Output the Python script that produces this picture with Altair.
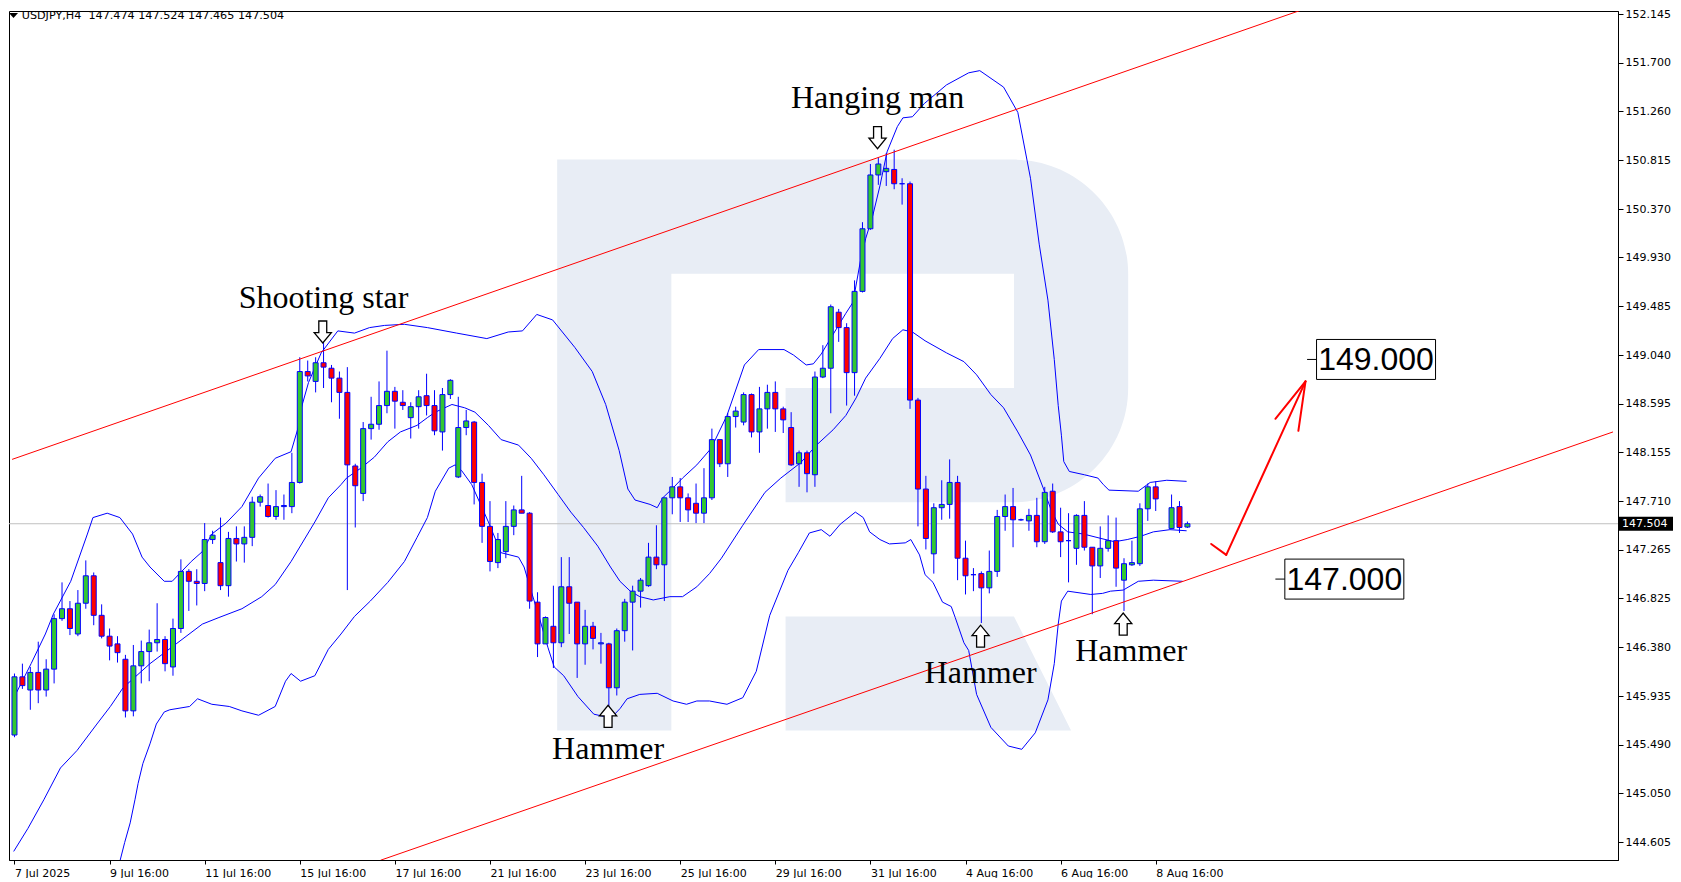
import altair as alt
import pandas as pd

# ---------------- data ----------------
HEADER = "USDJPY,H4\u00a0 147.474 147.524 147.465 147.504"

BAR_IDX = list(range(145)) + [146, 147, 148]
OPEN = [145.58, 146.11, 145.99, 146.15, 145.99, 146.18, 146.64, 146.73, 146.50, 146.78,
        147.03, 146.67, 146.48, 146.41, 146.27, 145.80, 146.21, 146.34, 146.42, 146.45,
        146.20, 146.55, 147.07, 146.98, 146.96, 147.36, 147.15, 146.94, 147.37, 147.32,
        147.38, 147.70, 147.67, 147.57, 147.66, 147.66, 147.88, 148.89, 148.80, 148.97,
        148.92, 148.83, 148.70, 148.03, 147.78, 148.37, 148.41, 148.58, 148.71, 148.61,
        148.47, 148.57, 148.67, 148.58, 148.34, 148.68, 147.93, 148.38, 148.43, 147.88,
        147.48, 147.15, 147.25, 147.48, 147.63, 147.60, 146.79, 146.41, 146.57, 146.42,
        146.93, 146.79, 146.41, 146.57, 146.41, 146.41, 146.01, 146.53, 146.79, 146.89,
        146.94, 147.20, 147.13, 147.74, 147.84, 147.74, 147.69, 147.60, 147.74, 148.27,
        148.05, 148.48, 148.43, 148.68, 148.34, 148.55, 148.70, 148.55, 148.38, 148.05,
        148.15, 147.95, 148.84, 148.92, 149.43, 149.29, 148.88, 149.62, 150.19, 150.68,
        150.71, 150.73, 150.60, 150.60, 148.63, 147.82, 147.23, 147.65, 147.68, 147.88,
        147.19, 147.04, 147.05, 146.92, 147.07, 147.57, 147.66, 147.54, 147.53, 147.58,
        147.34, 147.80, 147.43, 147.35, 147.28, 147.58, 147.29, 147.12, 147.28, 147.35,
        146.99, 147.13, 147.14, 147.64, 147.84, 147.46, 147.66, 147.474]
HIGH = [146.14, 146.23, 146.20, 146.43, 146.27, 146.68, 146.97, 146.80, 146.90, 147.17,
        147.06, 146.77, 146.55, 146.48, 146.31, 146.40, 146.44, 146.54, 146.78, 146.48,
        146.64, 147.18, 147.09, 147.09, 147.51, 147.44, 147.56, 147.43, 147.48, 147.48,
        147.75, 147.77, 147.87, 147.81, 147.77, 148.15, 149.02, 148.99, 149.02, 149.16,
        148.95, 148.89, 148.93, 148.05, 148.43, 148.66, 148.80, 149.08, 148.75, 148.72,
        148.61, 148.72, 148.87, 148.72, 148.74, 148.82, 148.66, 148.54, 148.44, 147.96,
        147.71, 147.42, 147.71, 147.67, 147.94, 147.61, 146.88, 146.66, 146.94, 147.20,
        147.20, 146.79, 146.72, 146.61, 146.51, 146.42, 146.55, 146.82, 146.94, 147.01,
        147.33, 147.49, 147.74, 147.93, 147.92, 147.78, 147.87, 148.01, 148.37, 148.27,
        148.51, 148.57, 148.70, 148.69, 148.75, 148.77, 148.80, 148.57, 148.52, 148.17,
        148.17, 148.89, 149.13, 149.50, 149.46, 149.33, 149.72, 150.25, 150.78, 150.84,
        150.88, 150.91, 150.65, 150.62, 148.65, 147.94, 147.69, 147.90, 148.09, 147.94,
        147.35, 147.10, 147.07, 147.26, 147.63, 147.77, 147.83, 147.55, 147.64, 147.74,
        147.84, 147.87, 147.65, 147.60, 147.59, 147.71, 147.29, 147.48, 147.58, 147.56,
        147.19, 147.35, 147.69, 147.87, 147.89, 147.77, 147.71, 147.524]
LOW = [145.56, 146.00, 145.81, 145.87, 145.93, 146.05, 146.62, 146.49, 146.48, 146.73,
       146.58, 146.46, 146.26, 146.24, 145.74, 145.75, 146.05, 146.07, 146.34, 146.16,
       146.12, 146.51, 146.71, 146.76, 146.89, 147.32, 146.90, 146.84, 147.16, 147.15,
       147.30, 147.66, 147.56, 147.54, 147.54, 147.60, 147.87, 148.80, 148.70, 148.74,
       148.61, 148.46, 146.90, 147.47, 147.71, 148.27, 148.36, 148.51, 148.37, 148.54,
       148.28, 148.37, 148.49, 148.31, 148.17, 148.64, 147.92, 148.31, 147.68, 147.33,
       147.07, 147.10, 147.19, 147.40, 147.60, 146.73, 146.29, 146.41, 146.19, 146.38,
       146.50, 146.10, 146.22, 146.36, 146.23, 145.82, 145.94, 146.43, 146.35, 146.74,
       146.93, 147.09, 146.80, 147.59, 147.52, 147.52, 147.51, 147.51, 147.72, 148.02,
       147.93, 148.38, 148.40, 148.29, 148.15, 148.37, 148.34, 148.33, 148.03, 147.84,
       147.79, 147.84, 148.83, 148.51, 149.16, 148.58, 148.67, 149.61, 150.18, 150.59,
       150.58, 150.55, 150.41, 148.55, 147.48, 147.27, 147.05, 147.54, 147.55, 146.99,
       146.86, 146.89, 146.60, 146.87, 147.02, 147.44, 147.29, 147.53, 147.44, 147.29,
       147.32, 147.42, 147.20, 146.97, 147.13, 147.26, 146.68, 147.01, 147.25, 146.93,
       146.71, 147.12, 147.12, 147.53, 147.62, 147.46, 147.42, 147.465]
CLOSE = [146.11, 146.03, 146.15, 145.99, 146.18, 146.64, 146.73, 146.55, 146.78, 147.03,
         146.67, 146.48, 146.39, 146.33, 145.80, 146.21, 146.34, 146.42, 146.45, 146.23,
         146.55, 147.07, 146.98, 146.96, 147.36, 147.40, 146.94, 147.37, 147.32, 147.38,
         147.70, 147.75, 147.57, 147.66, 147.67, 147.88, 148.89, 148.85, 148.97, 148.93,
         148.83, 148.70, 148.04, 147.85, 148.37, 148.41, 148.58, 148.71, 148.62, 148.58,
         148.57, 148.66, 148.58, 148.35, 148.68, 148.81, 148.38, 148.44, 147.88, 147.48,
         147.16, 147.36, 147.48, 147.63, 147.60, 146.80, 146.41, 146.65, 146.42, 146.93,
         146.78, 146.41, 146.57, 146.46, 146.42, 146.01, 146.53, 146.79, 146.89, 146.99,
         147.20, 147.13, 147.74, 147.84, 147.74, 147.63, 147.60, 147.74, 148.27, 148.05,
         148.48, 148.53, 148.68, 148.34, 148.55, 148.70, 148.55, 148.45, 148.04, 148.15,
         147.96, 148.84, 148.92, 149.48, 149.29, 148.88, 149.62, 150.19, 150.68, 150.78,
         150.74, 150.60, 150.60, 148.63, 147.82, 147.37, 147.65, 147.68, 147.88, 147.19,
         147.03, 147.04, 146.92, 147.07, 147.57, 147.66, 147.54, 147.54, 147.58, 147.34,
         147.79, 147.43, 147.34, 147.35, 147.58, 147.29, 147.12, 147.28, 147.35, 147.10,
         147.14, 147.15, 147.64, 147.84, 147.73, 147.65, 147.47, 147.504]

# Bollinger bands (bar position, price)
UPPER_IDX = [0.0, 2.1, 3.9, 4.9, 7.1, 9.2, 9.9, 11.7, 13.3, 14.9, 16.1, 17.1, 18.9, 19.9, 21.1,
             22.3, 23.7, 24.9, 26.7, 28.7, 30.8, 32.9, 34.9, 35.8, 36.2, 37.1, 38.7, 40.8, 42.9,
             44.8, 46.7, 49.2, 52.1, 55.8, 59.6, 62.3, 64.1, 65.9, 67.9, 70.7, 72.9, 74.6, 76.3,
             77.4, 78.3, 80.2, 81.1, 81.8, 83.1, 84.3, 86.1, 87.9, 89.9, 92.1, 93.9, 97.1, 98.3,
             99.9, 100.8, 101.8, 104.9, 105.8, 106.8, 107.4, 108.3, 109.2, 110.1, 111.4, 112.1,
             113.3, 114.8, 117.6, 120.4, 121.8, 124.8, 126.6, 128.2, 129.3, 130.4, 131.2, 131.7,
             132.1, 132.4, 133.1, 135.0, 136.7, 137.4, 138.1, 141.8, 143.3, 145.4, 147.9]
UPPER_VAL = [145.93, 146.23, 146.50, 146.68, 146.98, 147.41, 147.56, 147.60, 147.56, 147.41,
             147.20, 147.11, 146.98, 146.98, 147.07, 147.16, 147.25, 147.41, 147.51, 147.66,
             147.92, 148.10, 148.16, 148.38, 148.56, 148.79, 149.06, 149.26, 149.24, 149.29,
             149.31, 149.32, 149.29, 149.24, 149.19, 149.25, 149.26, 149.41, 149.36, 149.11,
             148.89, 148.59, 148.17, 147.82, 147.72, 147.68, 147.65, 147.74, 147.83, 147.92,
             148.04, 148.19, 148.49, 148.95, 149.09, 149.09, 149.04, 148.95, 148.96, 149.05,
             149.42, 149.52, 149.92, 150.10, 150.31, 150.58, 150.89, 151.12, 151.20, 151.21,
             151.33, 151.50, 151.61, 151.63, 151.48, 151.25, 150.65, 150.05, 149.54, 149.00,
             148.58, 148.31, 148.07, 147.98, 147.95, 147.92, 147.86, 147.81, 147.80, 147.88,
             147.90, 147.89]
MIDDLE_IDX = [-0.1, 1.7, 3.7, 5.8, 7.9, 10.4, 12.1, 13.7, 17.1, 20.4, 23.7, 25.8, 28.7, 31.2,
              32.9, 34.9, 37.9, 39.6, 41.2, 41.9, 43.7, 45.4, 47.1, 48.7, 50.8, 52.1, 53.1, 55.2,
              56.8, 58.1, 59.8, 61.4, 63.6, 65.2, 66.8, 68.6, 70.2, 71.8, 73.6, 75.2, 76.4, 77.7,
              78.9, 80.6, 82.7, 84.3, 86.1, 87.7, 89.2, 91.9, 94.7, 96.7, 99.2, 101.2, 103.3,
              104.9, 106.2, 107.4, 109.2, 110.8, 112.1, 113.3, 114.9, 117.6, 119.8, 121.4, 123.2,
              124.8, 126.6, 128.2, 129.8, 130.8, 131.7, 132.9, 134.9, 137.1, 138.8, 140.4, 142.1,
              143.7, 145.8, 147.9]
MIDDLE_VAL = [144.52, 144.73, 144.99, 145.28, 145.44, 145.68, 145.84, 146.01, 146.23, 146.41,
              146.59, 146.65, 146.73, 146.84, 146.95, 147.16, 147.52, 147.74, 147.86, 147.92,
              148.01, 148.11, 148.25, 148.34, 148.40, 148.47, 148.52, 148.59, 148.56, 148.52,
              148.40, 148.27, 148.22, 148.10, 147.95, 147.77, 147.61, 147.47, 147.30, 147.11,
              146.98, 146.89, 146.84, 146.81, 146.84, 146.84, 146.93, 147.05, 147.19, 147.49,
              147.79, 147.92, 148.06, 148.22, 148.36, 148.49, 148.65, 148.83, 149.01, 149.19,
              149.27, 149.25, 149.17, 149.06, 148.98, 148.86, 148.68, 148.56, 148.34, 148.13,
              147.83, 147.63, 147.50, 147.43, 147.41, 147.37, 147.34, 147.36, 147.39, 147.43,
              147.45, 147.44]
LOWER_IDX = [12.5, 13.3, 13.9, 14.6, 15.2, 15.6, 16.2, 17.1, 17.9, 18.9, 19.6, 22.1, 23.1, 24.9,
             27.1, 28.7, 30.8, 32.9, 34.2, 34.9, 36.1, 37.9, 39.6, 41.2, 42.9, 44.9, 47.1, 49.2,
             50.8, 52.1, 53.1, 54.8, 55.6, 56.4, 57.7, 59.8, 61.4, 63.6, 64.3, 65.2, 66.1, 67.3,
             68.1, 69.3, 71.1, 73.1, 74.3, 75.6, 76.4, 77.3, 78.9, 81.1, 83.1, 84.8, 86.1, 87.7,
             89.9, 91.9, 93.6, 95.3, 97.6, 98.9, 100.3, 101.8, 102.9, 104.2, 106.1, 107.1, 107.9,
             109.2, 110.4, 112.4, 113.1, 114.2, 114.9, 115.9, 117.1, 118.2, 118.7, 119.8, 120.4,
             121.4, 123.2, 125.4, 127.1, 128.8, 130.4, 131.2, 131.7, 132.1, 132.9, 135.8, 137.3,
             138.3, 139.9, 141.8, 143.7, 147.4]
LOWER_VAL = [144.20, 144.43, 144.60, 144.78, 144.99, 145.14, 145.32, 145.50, 145.68, 145.79,
             145.81, 145.84, 145.91, 145.86, 145.84, 145.80, 145.76, 145.84, 146.07, 146.14,
             146.07, 146.12, 146.36, 146.50, 146.66, 146.80, 146.97, 147.16, 147.38, 147.56,
             147.80, 148.01, 148.04, 147.99, 147.86, 147.52, 147.24, 147.20, 147.11, 146.89,
             146.68, 146.38, 146.20, 146.12, 145.93, 145.77, 145.75, 145.76, 145.82, 145.91,
             145.95, 145.96, 145.89, 145.86, 145.89, 145.89, 145.86, 145.92, 146.16, 146.67,
             147.08, 147.24, 147.42, 147.45, 147.39, 147.50, 147.61, 147.56, 147.43, 147.36,
             147.32, 147.33, 147.36, 147.22, 147.04, 146.97, 146.79, 146.75, 146.65, 146.42,
             146.35, 145.95, 145.65, 145.48, 145.45, 145.60, 145.90, 146.23, 146.59, 146.80,
             146.89, 146.86, 146.87, 146.89, 146.90, 146.98, 146.99, 146.98]

# channel lines: end points where they meet the chart border
CHANNEL_X1 = [-0.3, 46.2]
CHANNEL_Y1 = [148.09, 144.44]
CHANNEL_X2 = [163.1, 201.7]
CHANNEL_Y2 = [152.20, 148.34]

# hand-drawn forecast arrow (segments)
ARROW_X1 = [151.0, 152.9, 162.9, 162.9]
ARROW_Y1 = [147.32, 147.22, 148.80, 148.80]
ARROW_X2 = [152.9, 162.9, 159.1, 162.0]
ARROW_Y2 = [147.22, 148.80, 148.46, 148.35]

# pattern labels
PATTERN_TEXT = ["Shooting star", "Hanging man", "Hammer", "Hammer", "Hammer"]
PATTERN_IDX = [39.0, 108.9, 74.9, 121.9, 140.9]
PATTERN_PRICE = [149.47, 151.29, 145.36, 146.05, 146.25]
DOWN_ARROW_IDX = [38.9, 108.9]
DOWN_ARROW_PRICE = [149.25, 151.02]
UP_ARROW_IDX = [74.9, 121.9, 139.9]
UP_ARROW_PRICE = [145.75, 146.48, 146.59]

# target levels
TARGET_TEXT = ["149.000", "147.000"]
TARGET_PRICE = [149.0, 147.0]
TARGET_BOX_IDX = [171.8, 167.8]
TARGET_TICK_X1 = [163.1, 159.1]
TARGET_TICK_X2 = [164.35, 160.4]

LAST_PRICE = 147.504

# watermark position (bar position, price)
WM_IDX = [104.5]
WM_PRICE = [148.22]

X_TICKS = [0, 12, 24, 36, 48, 60, 72, 84, 96, 108, 120, 132, 144]
X_LABELS = ["7 Jul 2025", "9 Jul 16:00", "11 Jul 16:00", "15 Jul 16:00", "17 Jul 16:00",
            "21 Jul 16:00", "23 Jul 16:00", "25 Jul 16:00", "29 Jul 16:00", "31 Jul 16:00",
            "4 Aug 16:00", "6 Aug 16:00", "8 Aug 16:00"]
Y_TICKS = [152.145, 151.700, 151.260, 150.815, 150.370, 149.930, 149.485, 149.040, 148.595,
           148.155, 147.710, 147.265, 146.825, 146.380, 145.935, 145.490, 145.050, 144.605]

# ---------------- layout / style ----------------
W, H = 1609, 849
X_DOMAIN = [-0.06, 201.7]
Y_DOMAIN = [144.442, 152.173]
BLUE = "#0000ff"
GREEN = "#32c832"
RED = "#ff0000"
FONT = "DejaVu Sans"

label_expr = ""
for v, l in zip(X_TICKS, X_LABELS):
    label_expr += f"datum.value == {v} ? '{l}' : "
label_expr += "''"

XS = alt.Scale(domain=X_DOMAIN, nice=False, zero=False)
YS = alt.Scale(domain=Y_DOMAIN, nice=False, zero=False)
XAXIS = alt.Axis(values=X_TICKS, labelExpr=label_expr, orient="bottom", tickSize=4,
                 labelAlign="left", labelBaseline="top", labelPadding=3, labelFont=FONT,
                 labelFontSize=11, labelColor="black", tickColor="black",
                 domainColor="black", grid=False, labelFlush=False, labelOverlap=False,
                 title=None)
YAXIS = alt.Axis(values=Y_TICKS, format=".3f", orient="right", tickSize=5, labelPadding=2,
                 labelFont=FONT, labelFontSize=11, labelColor="black", tickColor="black",
                 domainColor="black", grid=False, labelFlush=False, labelOverlap=False,
                 title=None)


def X(f):
    return alt.X(f"{f}:Q", scale=XS, axis=XAXIS)


def Y(f):
    return alt.Y(f"{f}:Q", scale=YS, axis=YAXIS)


candles = pd.DataFrame({"idx": BAR_IDX, "open": OPEN, "high": HIGH, "low": LOW, "close": CLOSE})
candles["fill"] = [GREEN if c >= o else RED for o, c in zip(OPEN, CLOSE)]

bands = pd.concat([
    pd.DataFrame({"idx": UPPER_IDX, "price": UPPER_VAL, "band": "upper"}),
    pd.DataFrame({"idx": MIDDLE_IDX, "price": MIDDLE_VAL, "band": "middle"}),
    pd.DataFrame({"idx": LOWER_IDX, "price": LOWER_VAL, "band": "lower"}),
])

R_PATH = ("M -1 -1 L -0.6 -1 L -0.6 1 L -1 1 Z "
          "M -0.62 -1 L 0.6 -1 C 0.82 -1 1 -0.82 1 -0.6 L 1 -0.2 C 1 0.02 0.82 0.2 0.6 0.2 "
          "L -0.2 0.2 L -0.2 -0.2 L 0.6 -0.2 L 0.6 -0.6 L -0.62 -0.6 Z "
          "M -0.2 0.6 L 0.6 0.6 L 0.8 1 L -0.2 1 Z")
DOWN_PATH = "M -0.36 -1 L 0.36 -1 L 0.36 0.05 L 0.78 0.05 L 0 1 L -0.78 0.05 L -0.36 0.05 Z"
UP_PATH = "M -0.36 1 L 0.36 1 L 0.36 -0.05 L 0.78 -0.05 L 0 -1 L -0.78 -0.05 L -0.36 -0.05 Z"
BOX_PATH = "M -1 -0.336 L 1 -0.336 L 1 0.336 L -1 0.336 Z"
PBOX_PATH = "M -1 -0.26 L 1 -0.26 L 1 0.26 L -1 0.26 Z"
TRI_PATH = "M -1 -0.55 L 1 -0.55 L 0 0.55 Z"

watermark = alt.Chart(pd.DataFrame({"idx": WM_IDX, "price": WM_PRICE})).mark_point(
    shape=R_PATH, size=571 ** 2, filled=True, color="#e8edf5", opacity=1, strokeWidth=0
).encode(x=X("idx"), y=Y("price"))

price_line = alt.Chart(pd.DataFrame({"price": [LAST_PRICE]})).mark_rule(
    color="#c0c0c0", strokeWidth=1
).encode(y=Y("price"))

band_lines = alt.Chart(bands).mark_line(color=BLUE, strokeWidth=1, clip=True).encode(
    x=X("idx"), y=Y("price"), detail="band:N", order="idx:Q")

wicks = alt.Chart(candles).mark_rule(color=BLUE, strokeWidth=1, clip=True).encode(
    x=X("idx"), y=Y("low"), y2="high")

bodies = alt.Chart(candles).mark_bar(width=5, stroke=BLUE, strokeWidth=1, opacity=1,
                                     clip=True).encode(
    x=X("idx"), y=Y("open"), y2="close", color=alt.Color("fill:N", scale=None))

channel = alt.Chart(pd.DataFrame({"x1": CHANNEL_X1, "y1": CHANNEL_Y1, "x2": CHANNEL_X2,
                                  "y2": CHANNEL_Y2})).mark_rule(
    color=RED, strokeWidth=1, clip=True).encode(x=X("x1"), x2="x2", y=Y("y1"), y2="y2")

forecast = alt.Chart(pd.DataFrame({"x1": ARROW_X1, "y1": ARROW_Y1, "x2": ARROW_X2,
                                   "y2": ARROW_Y2})).mark_rule(
    color=RED, strokeWidth=2, strokeCap="round").encode(x=X("x1"), x2="x2", y=Y("y1"), y2="y2")

down_arrows = alt.Chart(pd.DataFrame({"idx": DOWN_ARROW_IDX, "price": DOWN_ARROW_PRICE})).mark_point(
    shape=DOWN_PATH, size=484, filled=True, fill="white", stroke="black", strokeWidth=1.3,
    opacity=1).encode(x=X("idx"), y=Y("price"))
up_arrows = alt.Chart(pd.DataFrame({"idx": UP_ARROW_IDX, "price": UP_ARROW_PRICE})).mark_point(
    shape=UP_PATH, size=484, filled=True, fill="white", stroke="black", strokeWidth=1.3,
    opacity=1).encode(x=X("idx"), y=Y("price"))

pattern_text = alt.Chart(pd.DataFrame({"idx": PATTERN_IDX, "price": PATTERN_PRICE,
                                       "label": PATTERN_TEXT})).mark_text(
    font="Liberation Serif", fontSize=32, align="center", baseline="alphabetic", color="black"
).encode(x=X("idx"), y=Y("price"), text="label:N")

targets = pd.DataFrame({"idx": TARGET_BOX_IDX, "price": TARGET_PRICE, "label": TARGET_TEXT,
                        "t1": TARGET_TICK_X1, "t2": TARGET_TICK_X2})
target_ticks = alt.Chart(targets).mark_rule(color="black", strokeWidth=1).encode(
    x=X("t1"), x2="t2", y=Y("price"))
target_boxes = alt.Chart(targets).mark_point(
    shape=BOX_PATH, size=119 ** 2, filled=True, fill="white", stroke="black", strokeWidth=1,
    opacity=1).encode(x=X("idx"), y=Y("price"))
target_text = alt.Chart(targets).mark_text(
    font="Liberation Sans", fontSize=32, align="center", baseline="middle", color="black",
    dy=1).encode(x=X("idx"), y=Y("price"), text="label:N")

last_df = pd.DataFrame({"price": [LAST_PRICE], "label": [f"{LAST_PRICE:.3f}"]})
last_box = alt.Chart(last_df).mark_point(
    shape=PBOX_PATH, size=54 ** 2, filled=True, color="black", opacity=1, strokeWidth=0
).encode(x=alt.value(W + 28), y=Y("price"))
last_text = alt.Chart(last_df).mark_text(
    font=FONT, fontSize=11, align="left", baseline="middle", color="white"
).encode(x=alt.value(W + 4), y=Y("price"), text="label:N")

head_df = pd.DataFrame({"label": [HEADER]})
head_tri = alt.Chart(head_df).mark_point(
    shape=TRI_PATH, size=81, filled=True, color="black", opacity=1, strokeWidth=0
).encode(x=alt.value(4.5), y=alt.value(4.5))
head_text = alt.Chart(head_df).mark_text(
    font=FONT, fontSize=11.2, align="left", baseline="middle", color="black"
).encode(x=alt.value(12.7), y=alt.value(4.7), text="label:N")

chart = alt.layer(
    watermark, price_line, band_lines, wicks, bodies, channel, forecast,
    down_arrows, up_arrows, pattern_text, target_ticks, target_boxes, target_text,
    last_box, last_text, head_tri, head_text
).properties(
    width=W, height=H, padding=0, background="white"
).configure_view(
    stroke="black", strokeWidth=1
)

chart.save("out.html", embed_options={"renderer": "svg", "actions": False})
